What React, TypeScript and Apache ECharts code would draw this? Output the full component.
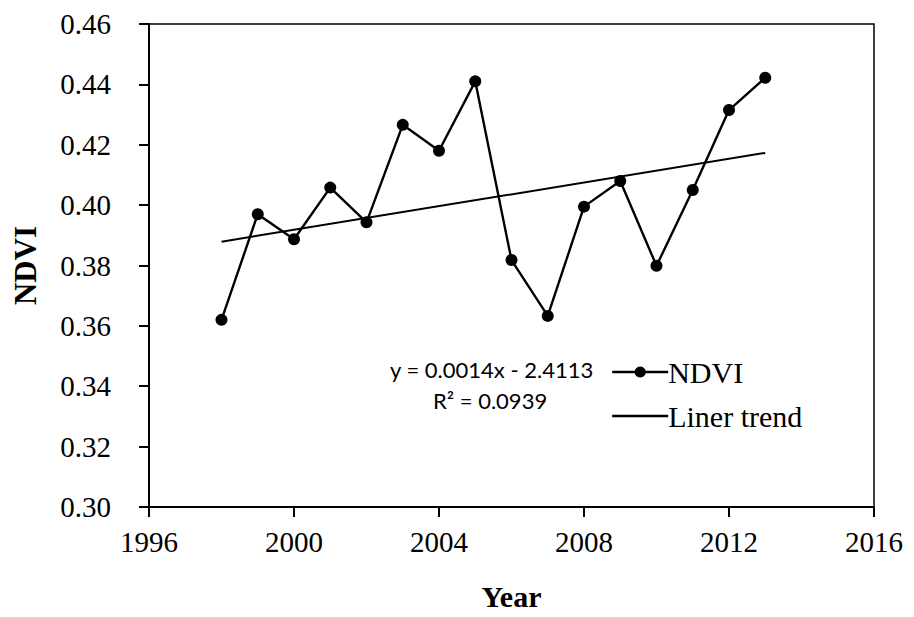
import React, { useEffect, useRef } from "react";
import * as echarts from "echarts";

const years = [1998, 1999, 2000, 2001, 2002, 2003, 2004, 2005, 2006, 2007, 2008, 2009, 2010, 2011, 2012, 2013];
const ndvi = [0.362, 0.397, 0.3887, 0.4058, 0.3943, 0.4266, 0.418, 0.441, 0.3818, 0.3633, 0.3995, 0.408, 0.3799, 0.405, 0.4315, 0.4422];
const trendYears = [1998, 2013];
const trendValues = [0.3879, 0.4173];
const equationText = "y = 0.0014x - 2.4113";
const r2Text = "R² = 0.0939";

export default function App() {
  const ref = useRef<HTMLDivElement>(null);
  useEffect(() => {
    const chart = echarts.init(ref.current!, null, { renderer: "svg" });
    const serif = "'Liberation Serif', 'Times New Roman', serif";
    chart.setOption({
      animation: false,
      backgroundColor: "#fff",
      grid: {
        left: 149, right: 40, top: 24, bottom: 110,
        show: true, borderColor: "#000", borderWidth: 1.5,
      },
      xAxis: {
        type: "value", min: 1996, max: 2016, interval: 4,
        name: "Year", nameLocation: "middle", nameGap: 74,
        nameTextStyle: { fontFamily: serif, fontSize: 30, fontWeight: "bold", color: "#000" },
        axisLine: { show: true, lineStyle: { color: "#000", width: 2 } },
        axisTick: { show: true, length: 10, lineStyle: { color: "#000", width: 2 } },
        axisLabel: { fontFamily: serif, fontSize: 29, color: "#000", margin: 20, formatter: (v: number) => String(v) },
        splitLine: { show: false },
      },
      yAxis: {
        type: "value", min: 0.3, max: 0.46, interval: 0.02,
        name: "NDVI", nameLocation: "middle", nameGap: 108, nameRotate: 90,
        nameTextStyle: { fontFamily: serif, fontSize: 31, fontWeight: "bold", color: "#000" },
        axisLine: { show: true, lineStyle: { color: "#000", width: 2 } },
        axisTick: { show: true, length: 10, lineStyle: { color: "#000", width: 2 } },
        axisLabel: { fontFamily: serif, fontSize: 29, color: "#000", margin: 38, formatter: (v: number) => v.toFixed(2) },
        splitLine: { show: false },
      },
      legend: {
        orient: "vertical", left: 606, top: 352, itemWidth: 56, itemHeight: 14, itemGap: 14,
        lineStyle: { width: 2.4, color: "#000" },
        textStyle: { fontFamily: serif, fontSize: 30, color: "#000", padding: [0, 0, 0, -5] },
        data: [
          { name: "NDVI" },
          { name: "Liner trend", itemStyle: { opacity: 0 } },
        ],
      },
      series: [
        {
          name: "NDVI", type: "line",
          data: years.map((y, i) => [y, ndvi[i]]),
          symbol: "circle", symbolSize: 12,
          itemStyle: { color: "#000" },
          lineStyle: { color: "#000", width: 2.4 },
        },
        {
          name: "Liner trend", type: "line",
          data: trendYears.map((y, i) => [y, trendValues[i]]),
          showSymbol: false, symbol: "none",
          itemStyle: { color: "#000" },
          lineStyle: { color: "#000", width: 2 },
        },
      ],
      graphic: [
        {
          type: "text", left: 390, top: 358,
          style: { text: equationText, font: "22px Lato, 'Open Sans', sans-serif", fill: "#000" },
        },
        {
          type: "text", left: 433, top: 389,
          style: { text: r2Text, font: "22px Lato, 'Open Sans', sans-serif", fill: "#000" },
        },
      ],
    });
    return () => chart.dispose();
  }, []);
  return <div ref={ref} style={{ width: 914, height: 617, position: "absolute", left: 0, top: 0 }} />;
}
